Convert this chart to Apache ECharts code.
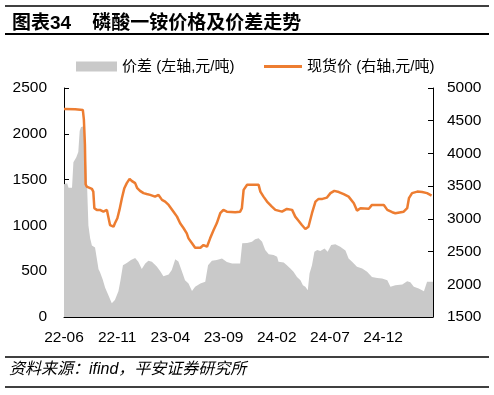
<!DOCTYPE html>
<html>
<head>
<meta charset="utf-8">
<script src="https://cdn.jsdelivr.net/npm/echarts@6/dist/echarts.min.js"></script>
<style>
html,body{margin:0;padding:0;background:#fff;}
#chart{width:494px;height:395px;}
</style>
</head>
<body>
<div id="chart"></div>
<script>
const spreadDates = ['2022-06-01','2022-06-04','2022-06-10','2022-06-14','2022-06-24','2022-06-28','2022-07-06','2022-07-12','2022-07-16','2022-07-20',
'2022-07-26','2022-07-29','2022-08-02','2022-08-06','2022-08-10','2022-08-15','2022-08-20','2022-08-29','2022-09-03','2022-09-08',
'2022-09-12','2022-09-20','2022-09-27','2022-10-06','2022-10-16','2022-10-25','2022-11-04','2022-11-10','2022-11-17','2022-11-28',
'2022-12-10','2022-12-22','2022-12-31','2023-01-10','2023-01-20','2023-01-29','2023-02-08','2023-02-22','2023-03-04','2023-03-13',
'2023-03-18','2023-03-28','2023-04-06','2023-04-16','2023-04-25','2023-05-05','2023-05-14','2023-05-24','2023-06-03','2023-06-12',
'2023-06-27','2023-07-11','2023-07-19','2023-07-30','2023-08-13','2023-08-28','2023-09-11','2023-09-26','2023-10-19','2023-10-25',
'2023-11-08','2023-11-22','2023-12-01','2023-12-11','2023-12-21','2023-12-30','2024-01-09','2024-01-23','2024-02-02','2024-02-06',
'2024-02-21','2024-03-01','2024-03-11','2024-03-20','2024-03-30','2024-04-09','2024-04-16','2024-04-23','2024-04-30','2024-05-05',
'2024-05-12','2024-05-19','2024-05-27','2024-06-05','2024-06-17','2024-06-26','2024-07-06','2024-07-18','2024-08-01','2024-08-16',
'2024-08-25','2024-09-04','2024-09-18','2024-10-03','2024-10-17','2024-10-31','2024-11-15','2024-11-29','2024-12-14','2024-12-23',
'2025-01-06','2025-01-26','2025-02-09','2025-02-18','2025-02-28','2025-03-14','2025-03-29','2025-04-07','2025-04-24'];
const spreadValues = [1450,1445,1460,1410,1410,1690,1740,1800,2030,2075,
2080,2000,1800,1450,1000,860,780,760,740,520,
490,410,320,240,150,185,280,400,566,590,
621,645,603,525,585,615,603,550,500,445,
438,465,512,630,605,500,402,366,285,330,
366,384,566,614,621,640,600,585,585,804,
808,822,850,859,822,731,684,676,657,603,
596,566,530,493,438,402,347,329,293,475,
566,712,731,720,749,712,785,793,767,725,
640,603,548,530,493,438,427,421,402,329,
347,355,391,380,329,311,282,384,384];
const priceDates = ['2022-06-01','2022-07-03','2022-07-25','2022-07-28','2022-07-31','2022-08-02','2022-08-05','2022-08-20','2022-08-24','2022-08-27',
'2022-09-03','2022-09-12','2022-09-22','2022-10-02','2022-10-06','2022-10-11','2022-10-21','2022-10-25','2022-11-01','2022-11-07',
'2022-11-14','2022-11-21','2022-11-28','2022-12-06','2022-12-12','2022-12-22','2022-12-28','2023-01-05','2023-01-15','2023-01-24',
'2023-02-03','2023-02-17','2023-02-27','2023-03-09','2023-03-18','2023-03-28','2023-04-11','2023-04-21','2023-04-30','2023-05-10',
'2023-05-19','2023-05-24','2023-06-03','2023-06-12','2023-06-27','2023-07-06','2023-07-16','2023-07-25','2023-08-04','2023-08-13',
'2023-08-23','2023-09-01','2023-09-11','2023-10-05','2023-10-19','2023-10-24','2023-10-29','2023-11-08','2023-12-11','2023-12-16',
'2023-12-25','2024-01-04','2024-01-18','2024-01-28','2024-02-16','2024-03-01','2024-03-16','2024-03-25','2024-04-04','2024-04-13',
'2024-04-23','2024-05-02','2024-05-12','2024-05-22','2024-05-31','2024-06-11','2024-06-24','2024-07-04','2024-07-15','2024-07-28',
'2024-08-11','2024-08-25','2024-08-30','2024-09-09','2024-09-18','2024-09-28','2024-10-22','2024-10-31','2024-12-04','2024-12-14',
'2024-12-28','2025-01-06','2025-01-30','2025-02-09','2025-02-14','2025-02-23','2025-03-10','2025-03-24','2025-04-07','2025-04-20'];
const priceValues = [4680,4675,4665,4517,4133,3530,3494,3459,3417,3163,
3137,3137,3110,3137,3034,2906,2880,2932,3009,3137,
3316,3469,3546,3612,3581,3546,3469,3428,3393,3380,
3366,3340,3366,3290,3264,3213,3110,3034,2932,2856,
2779,2702,2626,2558,2558,2600,2574,2702,2830,2932,
3086,3137,3110,3101,3110,3163,3443,3520,3520,3417,
3340,3264,3187,3137,3110,3152,3137,3034,2968,2906,
2845,2880,3086,3264,3305,3305,3325,3393,3428,3410,
3377,3340,3330,3239,3126,3163,3155,3213,3213,3137,
3101,3086,3110,3163,3316,3393,3417,3410,3393,3356];
const xTickLabels = ['22-06','22-11','23-04','23-09','24-02','24-07','24-12'];
const startDate = '2022-06-01';
const endDate = '2025-04-24';
const seriesNames = ['价差 (左轴,元/吨)', '现货价 (右轴,元/吨)'];

const DAY = 864e5;
function utc(s){ const p = s.split('-').map(Number); return Date.UTC(p[0], p[1]-1, p[2]); }
const t0 = utc(startDate);
function dayOf(s){ return (utc(s) - t0) / DAY; }
const tickStep = 152.5;

const FONT = '"Liberation Sans", Arial, "Noto Sans CJK SC", sans-serif';
const plain = v => String(v);
const chart = echarts.init(document.getElementById('chart'));
chart.setOption({
  animation: false,
  backgroundColor: '#fff',
  textStyle: { fontFamily: FONT, color: '#000' },
  title: {
    text: '图表34    磷酸一铵价格及价差走势',
    left: 7, top: 9,
    textStyle: { fontFamily: FONT, fontSize: 19, fontWeight: 'bold', color: '#000' }
  },
  graphic: [
    { type: 'line', shape: { x1: 5, y1: 6, x2: 489, y2: 6 }, style: { stroke: '#000', lineWidth: 1.5 } },
    { type: 'line', shape: { x1: 5, y1: 34, x2: 489, y2: 34 }, style: { stroke: '#000', lineWidth: 2 } },
    { type: 'line', shape: { x1: 5, y1: 357, x2: 489, y2: 357 }, style: { stroke: '#000', lineWidth: 1.5 } },
    { type: 'line', shape: { x1: 5, y1: 387, x2: 489, y2: 387 }, style: { stroke: '#000', lineWidth: 1.5 } },
    { type: 'text', left: 9, top: 362, style: { text: '资料来源：ifind，平安证券研究所', font: 'italic 16px ' + FONT, fill: '#000' } }
  ],
  legend: [
    { data: [seriesNames[0]], left: 76, top: 59, padding: 0, icon: 'rect', itemWidth: 41, itemHeight: 10,
      textStyle: { fontSize: 15, color: '#000', fontFamily: FONT } },
    { data: [seriesNames[1]], left: 264, top: 59, padding: 0, icon: 'rect', itemWidth: 38, itemHeight: 3,
      textStyle: { fontSize: 15, color: '#000', fontFamily: FONT } }
  ],
  grid: { left: 64, right: 61, top: 88, bottom: 78 },
  xAxis: {
    type: 'value', min: 0, max: dayOf(endDate), interval: tickStep,
    splitLine: { show: false },
    axisLine: { show: true, onZero: false, lineStyle: { color: '#000', width: 1 } },
    axisTick: { show: true, inside: true, length: 4, lineStyle: { color: '#000' } },
    axisLabel: {
      fontSize: 15.5, color: '#000', margin: 13, showMaxLabel: false,
      formatter: function (v) {
        const i = Math.round(v / tickStep);
        return (Math.abs(v - i * tickStep) < 0.01 && i < xTickLabels.length) ? xTickLabels[i] : '';
      }
    }
  },
  yAxis: [
    { type: 'value', min: 0, max: 2500, interval: 500, position: 'left',
      splitLine: { show: false },
      axisLine: { show: true, lineStyle: { color: '#000', width: 1 } },
      axisTick: { show: true, inside: true, length: 5, lineStyle: { color: '#000' } },
      axisLabel: { fontSize: 15.5, color: '#000', margin: 17, formatter: plain } },
    { type: 'value', min: 1500, max: 5000, interval: 500, position: 'right',
      splitLine: { show: false },
      axisLine: { show: true, lineStyle: { color: '#000', width: 1 } },
      axisTick: { show: true, inside: true, length: 5, lineStyle: { color: '#000' } },
      axisLabel: { fontSize: 15.5, color: '#000', margin: 14, formatter: plain } }
  ],
  series: [
    { name: seriesNames[0], type: 'line', yAxisIndex: 0, symbol: 'none',
      data: spreadDates.map((d, i) => [dayOf(d), spreadValues[i]]),
      itemStyle: { color: '#C9C9C9' },
      lineStyle: { width: 0, color: '#C9C9C9' },
      areaStyle: { color: '#C9C9C9', opacity: 1 }, z: 1 },
    { name: seriesNames[1], type: 'line', yAxisIndex: 1, symbol: 'none',
      data: priceDates.map((d, i) => [dayOf(d), priceValues[i]]),
      itemStyle: { color: '#ED7D31' },
      lineStyle: { width: 2.5, color: '#ED7D31' }, z: 3 }
  ]
});
</script>
</body>
</html>
